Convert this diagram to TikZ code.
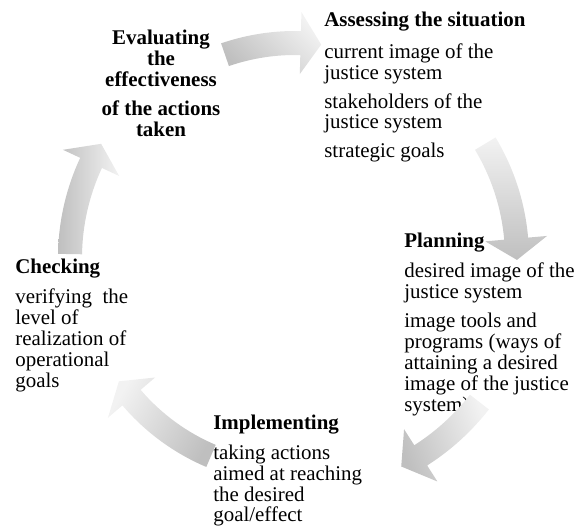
\documentclass[tikz,border=0pt]{standalone}
\usepackage{fontspec}
\setmainfont{Liberation Serif}
\usetikzlibrary{calc}

\begin{document}
\begin{tikzpicture}[
        x=0.021cm,
        y=0.021cm,
        block/.style={
          align=left,
          inner sep=0pt,
          anchor=north west,
          font=\fontsize{12.5}{12.5}\selectfont
          },
        evalblock/.style={
          block,
          align=center,
          anchor=north,
          font=\fontsize{12.5}{12.5}\selectfont\bfseries
          },
        ringarrow/.style={
          draw=none,
          top color=gray!50,
          bottom color=gray!10
          }
        ]
        \useasboundingbox (0,0) rectangle (577,-527);
        \coordinate (c) at (295,-258);

        \node[evalblock] (eval) at (161,-30)
          {Evaluating\\ the\\ effectiveness\\[5pt] of the actions\\ taken};
        \node[block] (assess) at (324,-12)
          {\textbf{Assessing the situation}\\[6.5pt] current image of the\\ justice system\\[4.5pt]
           stakeholders of the\\ justice system\\[4.5pt] strategic goals};
        \node[block] (plan) at (404,-233)
          {\textbf{Planning}\\[5.5pt] desired image of the\\ justice system\\[4.5pt]
           image tools and\\ programs (ways of\\ attaining a desired\\ image of the justice\\ system)};
        \node[block] (impl) at (213,-415)
          {\textbf{Implementing}\\[5pt] taking actions\\ aimed at reaching\\ the desired\\ goal/effect};
        \node[block] (check) at (15,-259)
          {\textbf{Checking}\\[5.5pt] verifying\ \ the\\ level of\\ realization of\\ operational\\ goals};

        % start angle / end angle / radius / shading angle
        \foreach \sa/\ea/\r/\sh in {109/83/215/135, 31/-0.5/222/180, -38/-63/234/110,
                                    -113/-145/215/240, 179/149.5/225/90}
        {
          \pgfmathsetmacro\hb{\ea+5.5}
          \shade[ringarrow, shading angle=\sh]
            ($(c)+(\sa:\r+12)$) arc[start angle=\sa, end angle=\hb, radius=\r+12]
            -- ($(c)+(\hb:\r+31)$) -- ($(c)+(\ea:\r)$) -- ($(c)+(\hb:\r-31)$)
            -- ($(c)+(\hb:\r-12)$) arc[start angle=\hb, end angle=\sa, radius=\r-12]
            -- cycle;
        }
\end{tikzpicture}
\end{document}
